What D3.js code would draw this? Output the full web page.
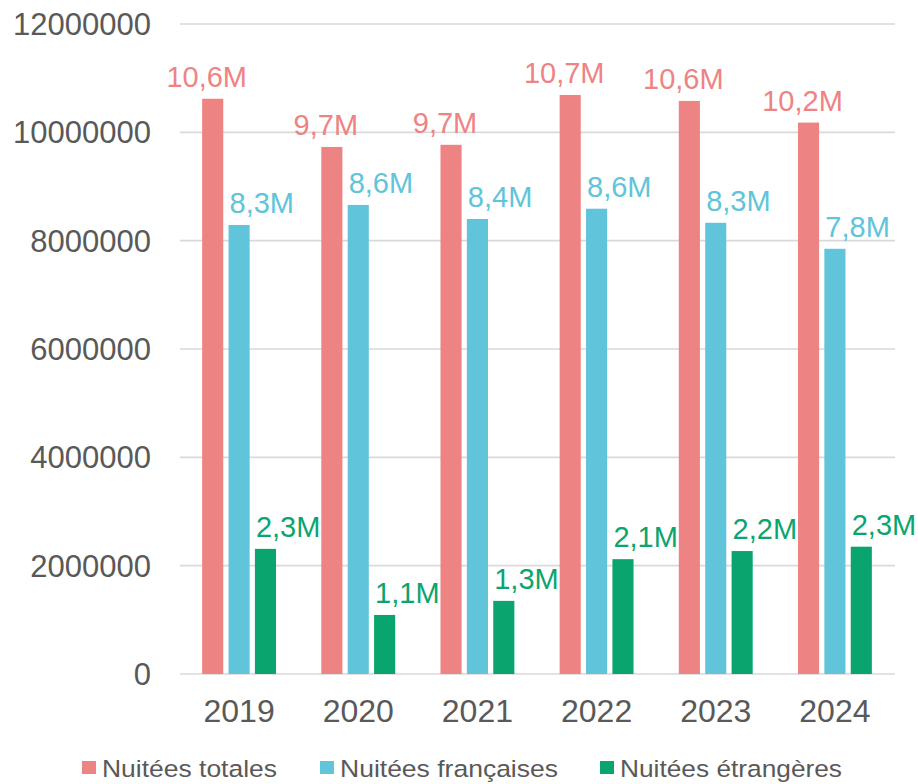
<!DOCTYPE html>
<html><head><meta charset="utf-8">
<script src="https://cdn.jsdelivr.net/npm/d3@7"></script>
<style>body{margin:0;background:#fff}svg{display:block}text{font-family:"Liberation Sans",Arial,sans-serif}</style>
</head><body>
<svg id="c" width="918" height="784"></svg>
<script>
const years = ["2019","2020","2021","2022","2023","2024"];
const seriesNames = ["Nuitées totales","Nuitées françaises","Nuitées étrangères"];
const seriesColors = ["#EE8383","#60C4DA","#0AA56F"];
const totales = [10620000,9730000,9770000,10690000,10580000,10180000];
const francaises = [8290000,8660000,8400000,8590000,8330000,7850000];
const etrangeres = [2310000,1090000,1350000,2120000,2270000,2350000];
const dataLabels = [
  ["10,6M","9,7M","9,7M","10,7M","10,6M","10,2M"],
  ["8,3M","8,6M","8,4M","8,6M","8,3M","7,8M"],
  ["2,3M","1,1M","1,3M","2,1M","2,2M","2,3M"]
];
const yTicks = [0,2000000,4000000,6000000,8000000,10000000,12000000];
const legendWidths = [175,218,222];

const values = [totales, francaises, etrangeres];
const svg = d3.select("#c");
const x0 = d3.scaleBand().domain(years).range([179.5, 894.5]).paddingInner(0.38).paddingOuter(0.19);
const x1 = d3.scaleBand().domain(d3.range(3)).range([0, x0.bandwidth()]).paddingInner(0.2);
const y = d3.scaleLinear().domain([0,12000000]).range([674, 24]);

// gridlines
svg.append("g").selectAll("line").data(yTicks).join("line")
  .attr("x1",180).attr("x2",895).attr("y1",d=>y(d)).attr("y2",d=>y(d))
  .attr("stroke","#D9D9D9").attr("stroke-width",1.6);

// y axis labels
svg.append("g").selectAll("text").data(yTicks).join("text")
  .attr("x",151).attr("y",d=>y(d)).attr("dy","0.36em").attr("text-anchor","end")
  .attr("font-size",31).attr("fill","#595959").text(d=>String(d));

// x labels
svg.append("g").selectAll("text").data(years).join("text")
  .attr("x",d=>x0(d)+x0.bandwidth()/2).attr("y",722).attr("text-anchor","middle")
  .attr("font-size",32).attr("fill","#595959").text(d=>d);

// bars
const flat = [];
years.forEach((yr,i)=>values.forEach((s,k)=>flat.push({yr,k,v:s[i],lab:dataLabels[k][i]})));
svg.append("g").selectAll("rect").data(flat).join("rect")
  .attr("x",d=>x0(d.yr)+x1(d.k)).attr("width",x1.bandwidth())
  .attr("y",d=>y(d.v)).attr("height",d=>y(0)-y(d.v))
  .attr("fill",d=>seriesColors[d.k]);

// data labels
svg.append("g").selectAll("text").data(flat).join("text")
  .attr("x",d=> d.k===0 ? x0(d.yr)+x1(d.k)+x1.bandwidth()/2-6 : x0(d.yr)+x1(d.k)+1)
  .attr("y",d=>y(d.v)-12)
  .attr("text-anchor",d=>d.k===0?"middle":"start")
  .attr("font-size",29).attr("fill",d=>seriesColors[d.k]).text(d=>d.lab);

// legend
const legX = [82,320,600];
const lg = svg.append("g").selectAll("g").data(seriesNames).join("g")
  .attr("transform",(d,i)=>`translate(${legX[i]},0)`);
lg.append("rect").attr("x",0).attr("y",761).attr("width",14).attr("height",13).attr("fill",(d,i)=>seriesColors[i]);
lg.append("text").attr("x",20).attr("y",776.5).attr("font-size",24.5).attr("fill","#595959")
  .attr("textLength",(d,i)=>legendWidths[i]).attr("lengthAdjust","spacingAndGlyphs").text(d=>d);
</script>
</body></html>
